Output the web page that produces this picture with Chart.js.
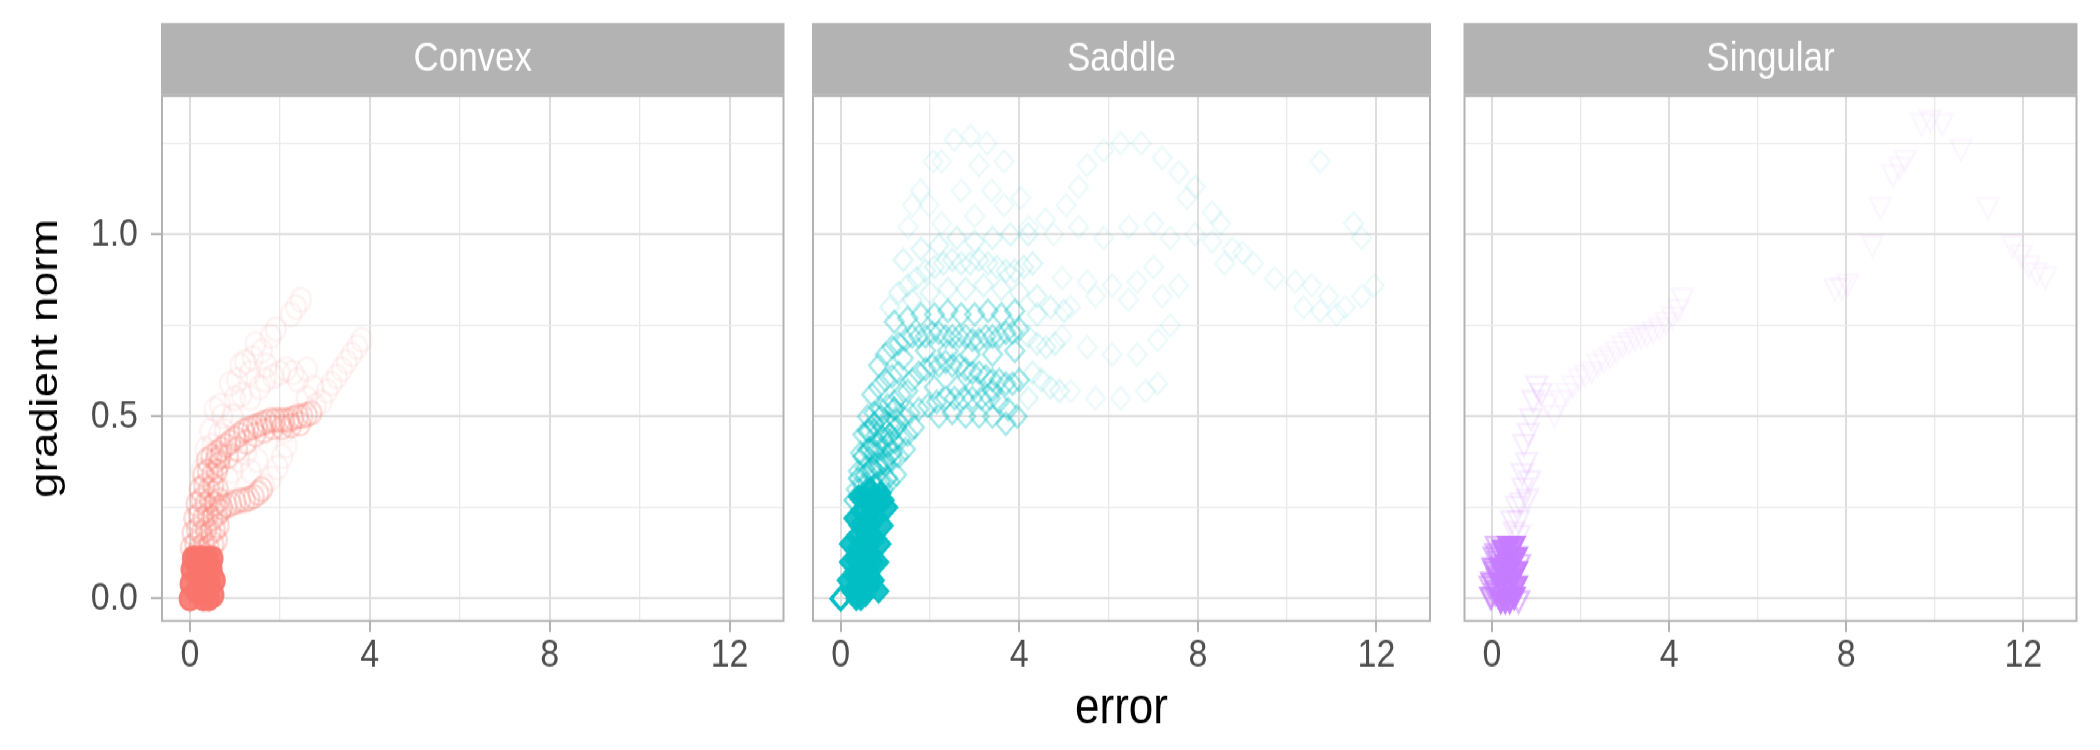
<!DOCTYPE html>
<html>
<head>
<meta charset="utf-8">
<script src="https://cdn.jsdelivr.net/npm/chart.js@4.4.1/dist/chart.umd.min.js"></script>
<style>
  html, body { margin: 0; padding: 0; background: #fff; }
  /* the reference is drawn slightly taller than wide, so the whole figure is stretched */
  #wrap { position: absolute; left: 0; top: 0; width: 2100px; height: 647px; transform: scaleY(1.1592); transform-origin: 0 0; }
  canvas { position: absolute; top: 0; }
</style>
</head>
<body>
<div id="wrap">
  <canvas id="c1" width="800" height="647" style="left:0;width:800px;height:647px"></canvas>
  <canvas id="c2" width="650" height="647" style="left:800px;width:650px;height:647px"></canvas>
  <canvas id="c3" width="650" height="647" style="left:1450px;width:650px;height:647px"></canvas>
</div>
<script>
// ---- data (error, gradient norm) ----
const panelNames = ["Convex", "Saddle", "Singular"];
const xLabels = [0, 4, 8, 12];
const yLabels = [0, 0.5, 1];

// Convex
const convexCore = [[0,0],[0.02,0.04],[0.04,0.08],[0.07,0.11],[0.15,0.02],[0.18,0.07],[0.22,0.11],
  [0.3,0],[0.33,0.05],[0.36,0.1],[0.42,0],[0.45,0.04],[0.48,0.08],[0.5,0.11],[0.52,0.01],[0.55,0.05],
  [0.4,0.11],[0.28,0.11],[0.14,0.11]];
const convexMid = [[0.02,0.14],[0.12,0.15],[0.22,0.14],[0.32,0.15],[0.42,0.14],[0.52,0.15],[0.6,0.16],
  [0.06,0.18],[0.16,0.19],[0.26,0.18],[0.36,0.19],[0.46,0.18],[0.56,0.19],[0.64,0.2],
  [0.1,0.22],[0.2,0.23],[0.3,0.22],[0.4,0.23],[0.5,0.22],[0.6,0.23],[0.68,0.24],
  [0.15,0.26],[0.25,0.27],[0.35,0.26],[0.45,0.27],[0.55,0.26],[0.65,0.27],
  [0.22,0.3],[0.32,0.31],[0.42,0.3],[0.52,0.31],[0.62,0.3],[0.3,0.34],[0.4,0.35],[0.5,0.34],[0.6,0.35],
  [0.38,0.38],[0.48,0.39],[0.58,0.38],[0.68,0.39],
  [0.72,0.25],[0.82,0.255],[0.92,0.26],[1.02,0.265],[1.12,0.27],[1.22,0.27],[1.32,0.275],[1.42,0.28],
  [1.52,0.29],[1.6,0.3],
  [0.6,0.4],[0.7,0.41],[0.8,0.42],[0.9,0.43],[1,0.44],[1.1,0.45],[1.2,0.46],[1.3,0.465],[1.4,0.47],
  [1.5,0.475],[1.6,0.48],[1.7,0.485],[1.8,0.49],[1.9,0.49],[2,0.49],[2.1,0.49],[2.2,0.49],[2.3,0.495],
  [2.4,0.5],[2.5,0.5],[2.6,0.505],[2.7,0.51],
  [0.65,0.37],[0.85,0.39],[1.05,0.41],[1.25,0.43],[1.45,0.45],[1.65,0.46],[1.85,0.47],[2.05,0.47],
  [2.25,0.475],[2.45,0.48]];
const convexFaint = [[1.65,0.31],[1.8,0.33],[1.95,0.36],[2.05,0.39],[2.15,0.42],[2.1,0.46],
  [0.25,0.35],[0.35,0.41],[0.45,0.46],[0.55,0.52],[0.67,0.53],[0.78,0.46],[0.89,0.59],[1,0.55],
  [1.12,0.64],[1.23,0.65],[1.34,0.62],[1.46,0.7],[1.55,0.58],[1.68,0.6],[1.8,0.72],[1.91,0.74],
  [2,0.62],[2.14,0.63],[2.25,0.78],[2.36,0.8],[2.47,0.82],[2.4,0.6],[2.6,0.63],[2.8,0.53],
  [2.93,0.54],[3.05,0.57],[3.15,0.59],[3.27,0.61],[3.38,0.63],[3.49,0.65],[3.6,0.67],[3.72,0.69],
  [3.82,0.71],[0.95,0.35],[1.1,0.38],[1.25,0.4],[0.65,0.45],[0.3,0.28],[0.5,0.42],[0.72,0.5],
  [0.95,0.5],[1.15,0.56],[1.35,0.55],[1.05,0.6],[1.4,0.66],[1.6,0.68],[1.7,0.64],[1.85,0.61],
  [2.3,0.62],[2.6,0.55],[2.75,0.58],[0.85,0.33],[1.35,0.35],[1.5,0.38]];

// Saddle
const saddleStart = [[0,0]];
const saddleCore = [[0.25,0.02],[0.35,0],[0.45,0],[0.55,0.01],[0.65,0.03],[0.75,0.05],[0.3,0.06],
  [0.45,0.05],[0.6,0.08],[0.75,0.1],[0.3,0.11],[0.45,0.12],[0.6,0.14],[0.75,0.16],[0.35,0.17],
  [0.5,0.19],[0.65,0.21],[0.8,0.22],[0.45,0.24],[0.6,0.26],[0.75,0.28],[0.9,0.29],[0.15,0.05],
  [0.2,0.1],[0.85,0.1],[0.9,0.15],[0.95,0.2],[0.2,0.15],[0.3,0.22],[0.4,0.28],[1.05,0.25],[0.85,0.02],
  [0.38,0.02],[0.52,0.04],[0.68,0.06],[0.38,0.08],[0.53,0.1],[0.68,0.12],[0.38,0.14],[0.53,0.16],
  [0.68,0.18],[0.42,0.2],[0.57,0.22],[0.72,0.24],[0.52,0.28],[0.67,0.3],[0.82,0.26],[0.97,0.27]];
const saddleStem = [[0.3,0.27],[0.45,0.28],[0.6,0.3],[0.75,0.31],[0.9,0.32],[1.05,0.33],[0.4,0.33],
  [0.55,0.34],[0.7,0.36],[0.85,0.37],[1,0.38],[1.15,0.4],[0.5,0.39],[0.65,0.41],[0.8,0.42],[0.95,0.44],
  [1.1,0.45],[1.25,0.47],[0.6,0.46],[0.75,0.48],[0.9,0.5],[1.2,0.52]];
const saddleDense = [[0.35,0.3],[0.5,0.31],[0.65,0.3],[0.8,0.31],[0.95,0.3],[1.1,0.32],[1.25,0.34],
  [0.4,0.35],[0.55,0.36],[0.7,0.35],[0.85,0.36],[1,0.37],[1.15,0.38],[1.3,0.39],[1.45,0.41],
  [0.45,0.4],[0.6,0.41],[0.75,0.4],[0.9,0.41],[1.05,0.42],[1.2,0.43],[1.35,0.44],[1.5,0.45],[1.65,0.47],
  [0.5,0.45],[0.65,0.46],[0.8,0.45],[0.95,0.47],[1.1,0.48],[1.25,0.49],[1.4,0.5],[1.55,0.51],
  [1.75,0.52],[1.95,0.53],[0.6,0.5],[0.75,0.51],[0.9,0.52],[1.05,0.53],[1.2,0.54],[1.35,0.56],[1.5,0.57],
  [2.15,0.54],[2.35,0.55],[2.55,0.55],[2.75,0.55],[2.95,0.55],[3.15,0.55],[3.35,0.55],[3.55,0.54],
  [3.75,0.52],[3.95,0.5],[2.2,0.5],[2.5,0.51],[2.8,0.5],[3.1,0.5],[3.4,0.5],[3.7,0.48],
  [0.7,0.56],[0.85,0.58],[1,0.6],[1.15,0.61],[1.3,0.62],[1.6,0.6],[1.75,0.62],[1.9,0.63],[2.05,0.64],
  [2.2,0.64],[2.35,0.65],[2.5,0.64],[2.65,0.64],[2.8,0.63],[2.95,0.62],[3.1,0.62],[3.25,0.61],
  [3.4,0.6],[3.55,0.6],[3.7,0.59],[3.85,0.59],[4,0.6],[2.1,0.58],[2.6,0.58],[3,0.58],[3.4,0.57],
  [0.85,0.64],[1,0.67],[1.15,0.69],[1.3,0.7],[1.45,0.71],[1.6,0.72],[1.75,0.72],[1.9,0.72],
  [2.05,0.73],[2.2,0.73],[2.35,0.72],[2.5,0.72],[2.65,0.72],[2.8,0.72],[2.95,0.71],[3.1,0.71],
  [3.25,0.72],[3.4,0.72],[3.55,0.72],[3.7,0.73],[3.85,0.73],[4,0.74],[1.4,0.66],[1.9,0.68],
  [2.4,0.68],[2.9,0.67],[3.4,0.67],[3.9,0.68],
  [1.2,0.76],[1.5,0.77],[1.8,0.78],[2.1,0.78],[2.4,0.79],[2.7,0.78],[3,0.78],[3.3,0.79],[3.6,0.78],[3.9,0.79]];
const saddleMid = [[1.1,0.8],[1.3,0.84],[1.5,0.86],[1.7,0.88],[1.9,0.9],[2.1,0.91],[2.3,0.92],
  [2.5,0.93],[2.7,0.92],[2.9,0.92],[3.1,0.93],[3.3,0.92],[3.5,0.91],[3.7,0.9],[3.9,0.9],[4.1,0.91],
  [4.3,0.92],[1.6,0.82],[2,0.84],[2.4,0.85],[2.8,0.85],[3.2,0.86],[3.6,0.85],[4,0.84],[4.4,0.83],
  [1.4,0.93],[1.8,0.96],[2.2,0.97],[2.6,0.99],[3,0.98],[3.4,0.99],[3.8,1],[4.2,1],
  [4.2,0.72],[4.4,0.7],[4.6,0.69],[4.8,0.7],[4.3,0.62],[4.5,0.6],[4.7,0.58],[4.9,0.57],[4.2,0.55],
  [4.4,0.78],[4.7,0.8],[5,0.79]];
const saddleFaint = [[1.51,1.02],[1.6,1.08],[1.79,1.12],[1.98,1.08],[2.07,1.2],[2.26,1.2],[2.26,1.03],
  [2.54,1.26],[2.91,1.27],[3.1,1.19],[3.28,1.25],[3.38,1.12],[3.66,1.2],[3.66,1.08],[4.03,1.1],
  [2.7,1.12],[3,1.05],[4.21,1.02],[4.59,1.04],[4.77,1],[5.05,1.08],
  [5.33,1.13],[5.33,1.02],[5.52,1.19],[5.89,1.23],[5.89,0.99],[6.27,1.25],[6.45,1.02],[6.73,1.25],
  [7.01,1.03],[7.2,1.21],[7.38,0.99],[7.57,1.17],[7.76,1.1],[7.94,1.13],[8.32,1.06],[8.51,1.03],
  [4.96,0.88],[5.52,0.87],[6.08,0.86],[6.64,0.87],[7.01,0.91],
  [5.15,0.8],[5.71,0.83],[6.45,0.82],[7.2,0.83],[7.57,0.86],[4.96,0.72],[5.52,0.69],
  [6.08,0.67],[6.64,0.67],[7.1,0.71],[7.38,0.75],[5.15,0.57],[5.71,0.55],[6.27,0.55],[6.83,0.57],
  [7.1,0.59],[7.94,1],[8.32,0.98],[8.78,0.96],[9.25,0.92],[9.72,0.88],[10.18,0.87],[10.55,0.86],
  [10.93,0.83],[11.3,0.8],[11.67,0.83],[11.95,0.86],[10.37,0.8],[10.74,0.79],[11.11,0.78],
  [10.74,1.2],[11.49,1.03],[11.67,0.99],[8.6,0.92],[9,0.95]];

// Singular
const singularCore = [[0.2,0],[0.3,0],[0.4,0],[0.5,0.01],[0.55,0.04],[0.22,0.05],[0.34,0.05],
  [0.46,0.06],[0.55,0.08],[0.2,0.09],[0.32,0.1],[0.44,0.11],[0.55,0.12],[0.25,0.14],[0.38,0.15],[0.5,0.15]];
const singularLeft = [[-0.03,0.01],[0,0.05],[0.05,0.09],[0.08,0.13],[0.1,0.03],[0.12,0.07]];
const singularDense = [[-0.02,0.01],[0,0.05],[0.02,0.09],[0.05,0.12],[0.1,0.15],[0.08,0.02],
  [0.6,0],[0.62,0.1],[0.12,0.06],[-0.04,0.04],[0.06,0.08],[0.14,0.11]];
const singularMid = [[0.5,0.19],[0.6,0.22],[0.65,0.27],[0.7,0.31],[0.55,0.26],[0.68,0.35],[0.78,0.38],
  [0.72,0.43],[0.82,0.46],[0.88,0.5],[0.93,0.55],[1.01,0.59],[1.11,0.57],[0.8,0.28],[0.85,0.33],
  [0.45,0.22],[0.62,0.18]];
const singularFaint = [[1.25,0.54],[1.41,0.51],[1.55,0.55],[1.69,0.57],[1.83,0.59],[1.97,0.61],
  [2.11,0.62],[2.25,0.63],[2.39,0.65],[2.53,0.66],[2.67,0.67],[2.81,0.685],[2.95,0.7],[3.09,0.71],
  [3.23,0.72],[3.37,0.725],[3.5,0.73],[3.64,0.74],[3.78,0.75],[3.93,0.765],[4.07,0.78],[4.21,0.8],
  [4.3,0.83],[7.75,0.857],[7.9,0.86],[8.03,0.87],[8.59,0.976],[8.77,1.08],[9.05,1.17],[9.2,1.19],
  [9.33,1.21],[9.7,1.31],[9.9,1.32],[10.17,1.31],[10.59,1.24],[11.2,1.08],[11.76,0.976],
  [11.95,0.95],[12.13,0.92],[12.3,0.9],[12.5,0.89]];

// ---- look ----
const FONT = "'Liberation Sans', Arial, Helvetica, sans-serif";
Chart.defaults.font.family = FONT;
const RED = "248,118,109", CYAN = "0,191,196", PURPLE = "199,124,255";
const GRID_MAJOR = "#DEDEDE", GRID_MINOR = "#EAEAEA", GREY70 = "#B3B3B3";
const STRIP_TOP = 19.8;

const isLabelled = (v, list) => list.some(t => Math.abs(t - v) < 1e-6);

function pts(arr) { return arr.map(p => ({ x: p[0], y: p[1] })); }

function marks(arr, rgb, alpha, style, r, filled, bw) {
  const c = `rgba(${rgb},${alpha})`;
  return {
    data: pts(arr),
    pointStyle: style === "tri" ? "triangle" : style,
    pointRotation: style === "tri" ? 180 : 0,
    pointRadius: r,
    pointBorderWidth: bw || 2.5,
    pointBorderColor: c,
    pointBackgroundColor: filled ? c : "rgba(0,0,0,0)"
  };
}

const panelDecor = {
  id: "panelDecor",
  afterDatasetsDraw(chart, args, opts) {
    const { ctx, chartArea: a } = chart;
    ctx.save();
    ctx.strokeStyle = GREY70;
    ctx.lineWidth = 2;
    ctx.strokeRect(a.left, a.top, a.right - a.left, a.bottom - a.top);
    ctx.fillStyle = GREY70;
    ctx.fillRect(a.left - 1, STRIP_TOP, a.right - a.left + 2, a.top - STRIP_TOP - 1);
    ctx.fillStyle = "#fff";
    ctx.font = "35px " + FONT;
    ctx.textAlign = "center";
    ctx.textBaseline = "middle";
    ctx.fillText(opts.label, (a.left + a.right) / 2, (STRIP_TOP + a.top) / 2);
    ctx.restore();
  }
};

function xScale(withTitle) {
  return {
    type: "linear", min: -0.62, max: 13.2,
    afterFit: s => { s.height = 111.3; },
    border: { display: false },
    grid: {
      color: c => isLabelled(c.tick.value, xLabels) ? GRID_MAJOR : GRID_MINOR,
      lineWidth: c => isLabelled(c.tick.value, xLabels) ? 2 : 1.3,
      tickColor: c => isLabelled(c.tick.value, xLabels) ? GREY70 : "rgba(0,0,0,0)",
      tickLength: 9.5, tickWidth: 2
    },
    ticks: {
      stepSize: 2, autoSkip: false, includeBounds: false, maxRotation: 0, padding: 0,
      color: "#4D4D4D", font: { size: 34 },
      callback: v => isLabelled(v, xLabels) ? String(v) : ""
    },
    title: { display: withTitle, text: "error", color: "#000", font: { size: 44 }, padding: { top: 0, bottom: 9 } }
  };
}

function yScale(withLabels) {
  return {
    type: "linear", min: -0.0615, max: 1.38,
    afterFit: s => { s.width = withLabels ? 162 : 0; },
    border: { display: false },
    grid: {
      color: c => isLabelled(c.tick.value, yLabels) ? GRID_MAJOR : GRID_MINOR,
      lineWidth: c => isLabelled(c.tick.value, yLabels) ? 2 : 1.3,
      tickColor: c => isLabelled(c.tick.value, yLabels) ? GREY70 : "rgba(0,0,0,0)",
      drawTicks: withLabels, tickLength: 11, tickWidth: 2
    },
    ticks: {
      display: withLabels, stepSize: 0.25, autoSkip: false, includeBounds: false, padding: 13,
      color: "#4D4D4D", font: { size: 34 },
      callback: v => isLabelled(v, yLabels) ? v.toFixed(1) : ""
    },
    title: { display: withLabels, text: "gradient norm", color: "#000", font: { size: 39 }, padding: { top: 23, bottom: 0 } }
  };
}

function makePanel(id, name, datasets, padding, first, middle) {
  return new Chart(document.getElementById(id), {
    type: "scatter",
    data: { datasets },
    options: {
      responsive: false, animation: false, events: [],
      layout: { padding },
      plugins: { legend: { display: false }, tooltip: { enabled: false }, panelDecor: { label: name } },
      scales: { x: xScale(middle), y: yScale(first) }
    },
    plugins: [panelDecor]
  });
}

// first dataset is drawn on top
makePanel("c1", panelNames[0], [
  marks(convexCore, RED, 0.9, "circle", 10, true),
  marks(convexMid, RED, 0.25, "circle", 10, false),
  marks(convexFaint, RED, 0.08, "circle", 10, false)
], { top: 82.8, left: 0, right: 16.5, bottom: 0 }, true, false);

makePanel("c2", panelNames[1], [
  marks(saddleStart, CYAN, 1, "rectRot", 9.5, false, 3.5),
  marks(saddleCore, CYAN, 0.9, "rectRot", 9.5, true),
  marks(saddleStem, CYAN, 0.5, "rectRot", 9.5, false),
  marks(saddleDense, CYAN, 0.34, "rectRot", 9.5, false),
  marks(saddleMid, CYAN, 0.12, "rectRot", 9.5, false),
  marks(saddleFaint, CYAN, 0.07, "rectRot", 9.5, false)
], { top: 82.8, left: 8.5, right: 20, bottom: 0 }, false, true);

makePanel("c3", panelNames[2], [
  marks(singularCore, PURPLE, 0.9, "tri", 12, true),
  marks(singularDense, PURPLE, 0.5, "tri", 12, false),
  marks(singularLeft, PURPLE, 0.4, "tri", 12, true),
  marks(singularMid, PURPLE, 0.13, "tri", 12, false),
  marks(singularFaint, PURPLE, 0.06, "tri", 12, false)
], { top: 82.8, left: 4.5, right: 23.5, bottom: 0 }, false, false);
</script>
</body>
</html>
